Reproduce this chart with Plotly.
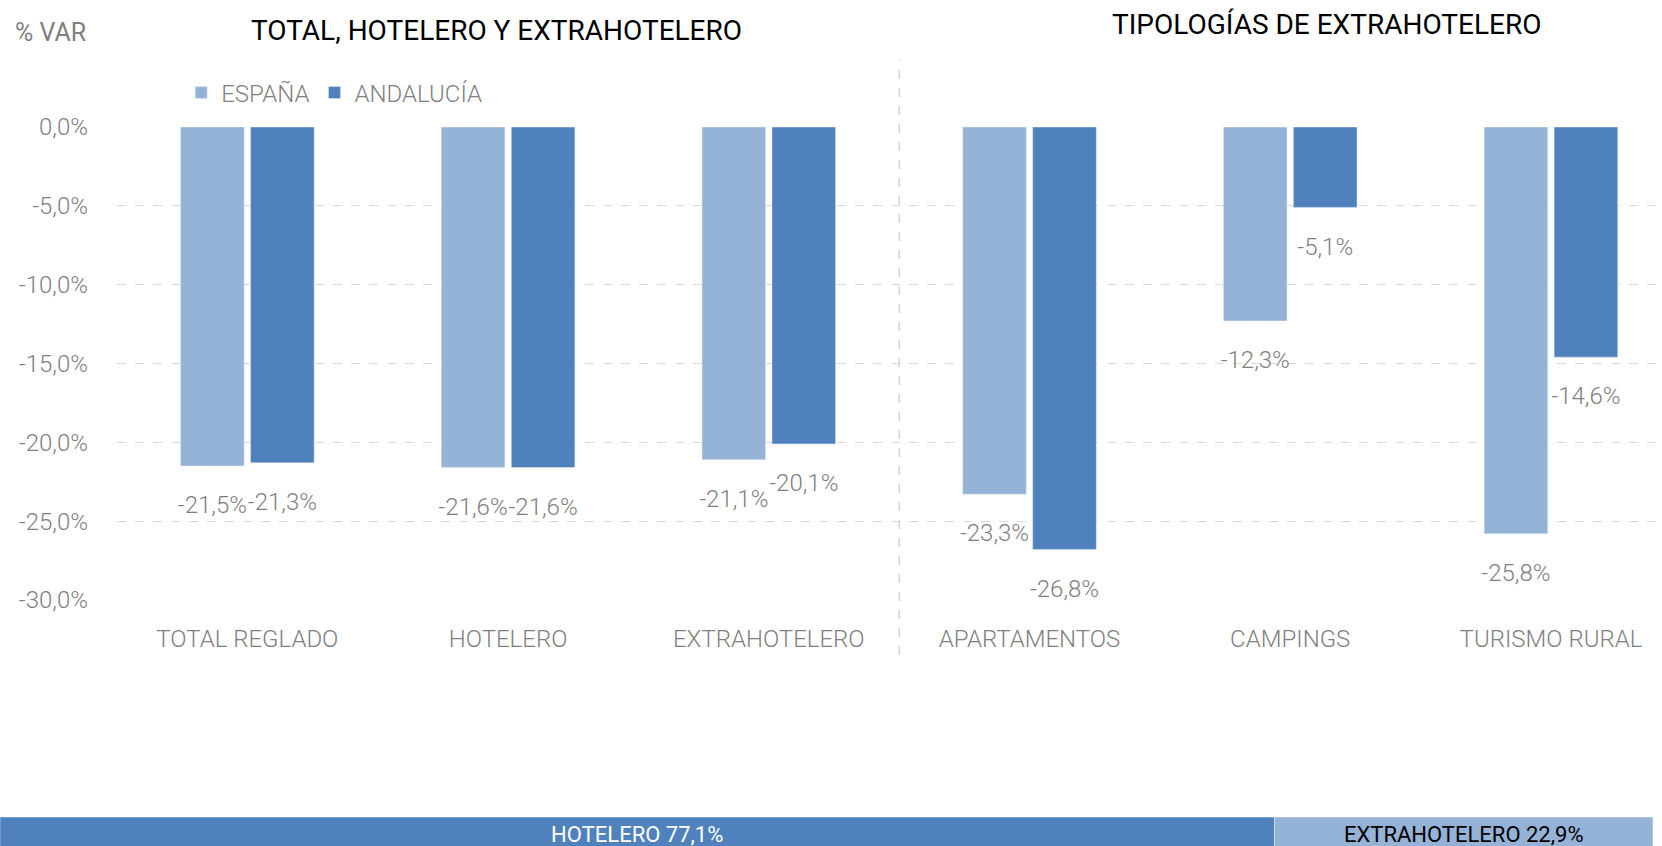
import plotly.graph_objects as go

categories = ["TOTAL REGLADO", "HOTELERO", "EXTRAHOTELERO", "APARTAMENTOS", "CAMPINGS", "TURISMO RURAL"]
espana = [-21.5, -21.6, -21.1, -23.3, -12.3, -25.8]
andalucia = [-21.3, -21.6, -20.1, -26.8, -5.1, -14.6]
y_ticks = [0, -5, -10, -15, -20, -25, -30]
share_labels = ["HOTELERO", "EXTRAHOTELERO"]
share_values = [77.1, 22.9]

def fmt(v):
    return f"{v:.1f}".replace(".", ",") + "%"

W, H = 1662, 846
LIGHT = "#95B3D7"
DARK = "#4F81BD"
GREY = "#7F7F7F"
FONT = "Roboto"
NARROW = "Liberation Sans Narrow, Roboto"
BARGAP = 0.463

fig = go.Figure()
fig.add_trace(go.Bar(x=categories, y=espana, name="ESPAÑA", marker_color=LIGHT,
                     offsetgroup="esp", hoverinfo="skip"))
fig.add_trace(go.Bar(x=categories, y=andalucia, name="ANDALUCÍA", marker_color=DARK,
                     offsetgroup="and", hoverinfo="skip"))
for vals, grp in [(espana, "esp"), (andalucia, "and")]:
    fig.add_trace(go.Scatter(x=categories, y=vals, mode="markers+text",
                             text=[fmt(v) for v in vals], textposition="bottom center",
                             textfont=dict(family=FONT, size=24, color=GREY, weight=300),
                             marker=dict(size=45, color="rgba(0,0,0,0)"),
                             offsetgroup=grp, showlegend=False, hoverinfo="skip",
                             cliponaxis=False))

# bottom share bar
fig.add_trace(go.Bar(y=["s"], x=[share_values[0]], orientation="h", xaxis="x2", yaxis="y2",
                     marker_color=DARK, width=1, offsetgroup="share", showlegend=False,
                     text=[f"{share_labels[0]} {fmt(share_values[0])}"], textposition="inside",
                     insidetextanchor="middle", constraintext="none",
                     textfont=dict(family=NARROW, size=22, color="white"), hoverinfo="skip"))
fig.add_trace(go.Bar(y=["s"], x=[share_values[1]], base=[share_values[0]], orientation="h",
                     xaxis="x2", yaxis="y2",
                     marker_color=LIGHT, width=1, offsetgroup="share", showlegend=False,
                     text=[f"{share_labels[1]} {fmt(share_values[1])}"], textposition="inside",
                     insidetextanchor="middle", constraintext="none",
                     textfont=dict(family=NARROW, size=22, color="black"), hoverinfo="skip"))

fig.update_layout(
    width=W, height=H,
    margin=dict(l=0, r=0, t=0, b=0, autoexpand=False),
    paper_bgcolor="white", plot_bgcolor="white",
    barmode="group", bargap=BARGAP, bargroupgap=0.091,
    scattermode="group", scattergap=BARGAP,
    font=dict(family=FONT, color=GREY),
    xaxis=dict(domain=[117 / W, 1], range=[-0.5, 5.426], showgrid=False, zeroline=False,
               showline=False, tickfont=dict(size=24, color=GREY, weight=300),
               ticklabelstandoff=22, automargin=False),
    yaxis=dict(domain=[1 - 600 / H, 1 - 127 / H], range=[-30, 0],
               tickvals=y_ticks, ticktext=[fmt(v) for v in y_ticks],
               tickfont=dict(size=24, color=GREY, weight=300),
               showgrid=True, gridcolor="#D9D9D9", griddash="dash", gridwidth=1,
               zeroline=False, showline=False, ticklabelstandoff=28, automargin=False),
    xaxis2=dict(domain=[0, 1653 / W], range=[0, 100], visible=False, anchor="y2"),
    yaxis2=dict(domain=[0, 29 / H], range=[-0.353, 0.5], visible=False, anchor="x2"),
    legend=dict(orientation="h", x=0.109, y=1 - 93 / H, xanchor="left", yanchor="middle",
                font=dict(size=24, color=GREY, weight=300), itemwidth=30,
                bgcolor="rgba(0,0,0,0)", traceorder="normal"),
    showlegend=True,
    shapes=[dict(type="line", xref="x", yref="paper", x0=2.5, x1=2.5,
                 y0=1 - 655 / H, y1=1 - 60 / H,
                 line=dict(color="#BFBFBF", width=1, dash="dash"))],
    annotations=[
        dict(text="TOTAL, HOTELERO Y EXTRAHOTELERO", xref="paper", yref="paper",
             x=496 / W, y=1 - 30 / H, xanchor="center", yanchor="middle", showarrow=False,
             font=dict(family=NARROW, size=28, color="black")),
        dict(text="TIPOLOGÍAS DE EXTRAHOTELERO", xref="paper", yref="paper",
             x=1326 / W, y=1 - 25 / H, xanchor="center", yanchor="middle", showarrow=False,
             font=dict(family=NARROW, size=28, color="black")),
        dict(text="% VAR", xref="paper", yref="paper",
             x=50 / W, y=1 - 32 / H, xanchor="center", yanchor="middle", showarrow=False,
             font=dict(family=NARROW, size=25, color=GREY)),
    ],
)

fig.write_html("out.html", config={"displayModeBar": False},
               post_script="document.body.style.margin='0';document.body.style.overflow='hidden';")
